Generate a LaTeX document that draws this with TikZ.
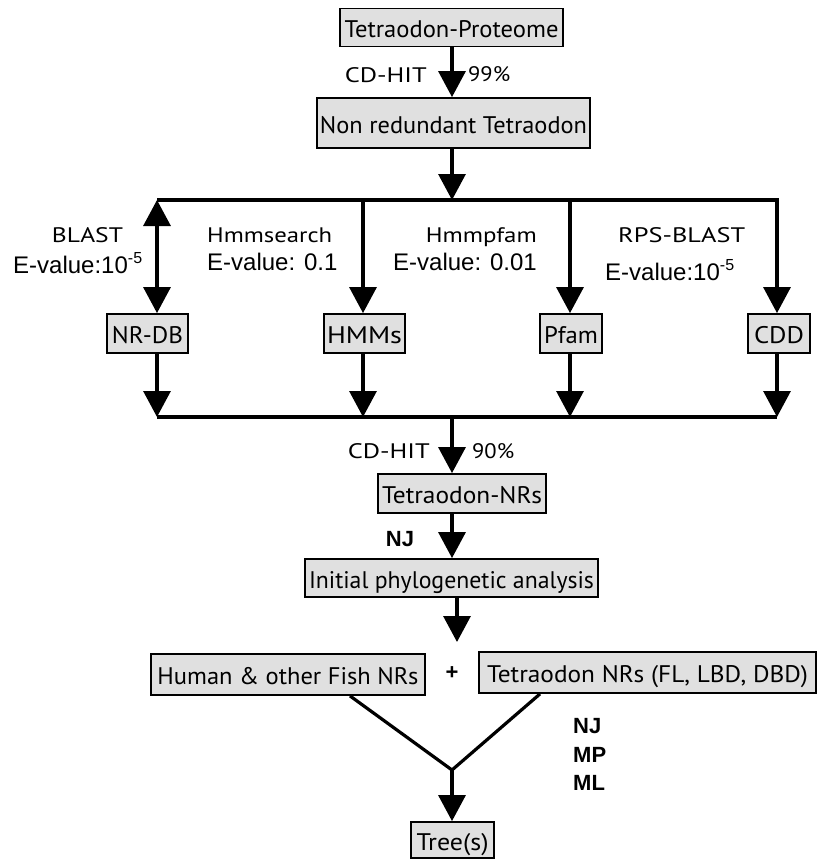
\documentclass[tikz,border=0pt]{standalone}
\usepackage{fontspec}
\setmainfont{PT Sans}
\newfontfamily\arialfont{Liberation Sans}
\usetikzlibrary{arrows.meta}
\definecolor{boxgray}{RGB}{224,224,224}
\newcommand{\sq}[2]{\resizebox{#1}{\height}{#2}}
\newcommand{\supm}[1]{\raisebox{0.75ex}{\fontsize{16}{16}\selectfont #1}}
\begin{document}
\begin{tikzpicture}[x=1pt,y=-1pt,
  box/.style={draw=black, line width=1.8pt, fill=boxgray, inner sep=0pt, text height=20pt, text depth=0pt, font=\fontsize{24}{28}\selectfont},
  conn/.style={line width=3.2pt},
  tip/.tip={Triangle[width=27pt,length=26pt]},
  arr/.style={conn, -tip},
  lbl/.style={inner sep=0pt, font=\fontsize{21}{25}\selectfont},
  elbl/.style={inner sep=0pt, font=\arialfont\fontsize{24}{28}\selectfont},
  blbl/.style={inner sep=0pt, font=\arialfont\bfseries\fontsize{22}{26}\selectfont},
]
\useasboundingbox (0,0) rectangle (817,859);

% boxes
\node[box, minimum width=223pt, minimum height=38pt] (prot) at (451.5,27.5) {\sq{214pt}{Tetraodon-Proteome}};
\node[box, minimum width=273pt, minimum height=50pt] (nonred) at (453.5,123) {\sq{267pt}{Non redundant Tetraodon}};
\node[box, minimum width=81pt, minimum height=39pt] (nrdb) at (147.5,333.5) {\sq{71pt}{NR-DB}};
\node[box, minimum width=81pt, minimum height=39pt] (hmms) at (364.5,333.5) {\sq{75pt}{HMMs}};
\node[box, minimum width=62pt, minimum height=39pt] (pfam) at (571,333.5) {\sq{54pt}{Pfam}};
\node[box, minimum width=62pt, minimum height=39pt] (cdd) at (779,333.5) {\sq{50pt}{CDD}};
\node[box, minimum width=168pt, minimum height=39pt] (nrs) at (462,493.5) {\sq{160pt}{Tetraodon-NRs}};
\node[box, minimum width=293pt, minimum height=38pt] (init) at (451.5,578) {\sq{285pt}{Initial phylogenetic analysis}};
\node[box, minimum width=274pt, minimum height=41pt] (human) at (288,674.5) {\sq{261pt}{Human \& other Fish NRs}};
\node[box, minimum width=337pt, minimum height=41pt] (tnrs) at (647.5,672.5) {\sq{321pt}{Tetraodon NRs (FL, LBD, DBD)}};
\node[box, minimum width=83pt, minimum height=36pt] (tree) at (452.5,840) {\sq{72pt}{Tree(s)}};

% helper coordinates
\coordinate (cx) at (452,0);
\coordinate (t1) at (157,200);
\coordinate (t2) at (363,200);
\coordinate (t3) at (570,200);
\coordinate (t4) at (777,200);
\coordinate (tm) at (452,200);
\coordinate (b1) at (157,417);
\coordinate (b2) at (363,417);
\coordinate (b3) at (570,417);
\coordinate (b4) at (777,417);
\coordinate (bm) at (452,417);
\coordinate (ix) at (457,642);
\coordinate (hl) at (350,0);
\coordinate (tl) at (540,0);
\coordinate (join) at (452,770);

% connectors
\draw[arr] (prot.south -| cx) -- (nonred.north -| cx);
\draw[arr] (nonred.south -| cx) -- (tm);
\draw[arr, line join=miter] (t1) -- (t4) -- (cdd.north -| t4);
\draw[conn, tip-tip] (t1) -- (nrdb.north -| t1);
\draw[arr] (t2) -- (hmms.north -| t2);
\draw[arr] (t3) -- (pfam.north -| t3);
\draw[arr] (nrdb.south -| b1) -- (b1);
\draw[arr] (hmms.south -| b2) -- (b2);
\draw[arr] (pfam.south -| b3) -- (b3);
\draw[arr] (cdd.south -| b4) -- (b4);
\draw[conn] (b1) -- (b4);
\draw[arr] (bm) -- (nrs.north -| bm);
\draw[arr] (nrs.south -| cx) -- (init.north -| cx);
\draw[arr] (init.south -| ix) -- (ix);
\draw[conn, line join=miter] (human.south -| hl) -- (join) -- (tnrs.south -| tl);
\draw[arr] (join) -- (tree.north -| join);

% labels
\node[lbl, anchor=base east] (cd1) at (427,82) {\sq{82pt}{CD-HIT}};
\node[lbl, anchor=base west] (p99) at (468,82) {\sq{42pt}{99\%}};
\node[lbl, anchor=base] (blast) at (87.5,242) {\sq{71pt}{BLAST}};
\node[elbl, anchor=base west] (ev1) at (13,273) {E-value:10\supm{-5}};
\node[lbl, anchor=base west] (hmmsearch) at (207,242) {\sq{125pt}{Hmmsearch}};
\node[elbl, anchor=base west] (ev2) at (207,270) {E-value: 0.1};
\node[lbl, anchor=base east] (hmmpfam) at (537,242) {\sq{111pt}{Hmmpfam}};
\node[elbl, anchor=base east] (ev3) at (537,270) {E-value: 0.01};
\node[lbl, anchor=base west] (rps) at (618,242) {\sq{127pt}{RPS-BLAST}};
\node[elbl, anchor=base west] (ev4) at (605,280) {E-value:10\supm{-5}};
\node[lbl, anchor=base east] (cd2) at (430,458) {\sq{82pt}{CD-HIT}};
\node[lbl, anchor=base west] (p90) at (472,458) {\sq{42pt}{90\%}};
\node[blbl, anchor=base] (nj1) at (400,546) {NJ};
\node[blbl] (plus) at (452,673) {+};
\node[blbl, anchor=base west] (m1) at (573,733) {NJ};
\node[blbl, anchor=base west] (m2) at (573,762) {MP};
\node[blbl, anchor=base west] (m3) at (573,790) {ML};
\end{tikzpicture}
\end{document}
